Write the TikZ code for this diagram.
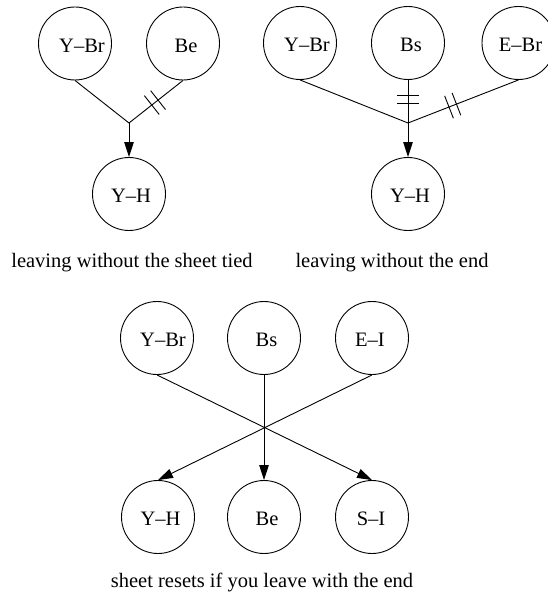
\documentclass[tikz,border=0pt]{standalone}
\usepackage{fontspec}
\setmainfont{Liberation Serif}
\usetikzlibrary{calc,arrows.meta}
% double hatch: a short stroke across the line #1--#2, #3 from #1, half length #4
\newcommand\hatchmark[4]{\draw ($(#1)!#3!(#2)!#4!90:(#2)$) -- ($(#1)!#3!(#2)!#4!-90:(#2)$);}
\begin{document}
\begin{tikzpicture}[x=1pt,y=-1pt,line width=0.9pt,
  state/.style={circle,draw,minimum size=73pt,inner sep=0pt},
  tag/.style={font=\fontsize{20.5}{24}\selectfont,yshift=-2pt},
  caption/.style={font=\fontsize{20.5}{24}\selectfont,anchor=base,inner sep=0pt},
  tip/.style={-{Triangle[length=15pt,width=9.5pt]}}]
\useasboundingbox (0,0) rectangle (548,599);

% leaving without the sheet tied
\node[state,label={[tag,xshift=7pt]center:Y--Br}] (a1) at (75,43.5) {};
\node[state,label={[tag,xshift=3pt]center:Be}] (a2) at (183,43.5) {};
\node[state,label={[tag,xshift=2pt]center:Y--H}] (a3) at (129,194) {};
\coordinate (aj) at (129,123);
\draw (a1.south) -- (aj) -- (a2.south);
\draw[tip] (aj) -- (a3.north);
\hatchmark{aj}{a2.south}{29pt}{12pt}
\hatchmark{aj}{a2.south}{37pt}{12pt}
\node[caption] (acap) at (132,267) {leaving without the sheet tied};

% leaving without the end
\node[state,label={[tag,xshift=7pt]center:Y--Br}] (b1) at (300,43) {};
\node[state,label={[tag,xshift=3pt]center:Bs}] (b2) at (408,43) {};
\node[state,label={[tag,xshift=2pt]center:E--Br}] (b3) at (518.5,43) {};
\node[state,label={[tag,xshift=2pt]center:Y--H}] (b4) at (408,194) {};
\coordinate (bj) at (408,123);
\draw (b1.south) -- (bj) -- (b3.south);
\draw (b2.south) -- (bj);
\draw[tip] (bj) -- (b4.north);
\hatchmark{bj}{b2.south}{20pt}{11pt}
\hatchmark{bj}{b2.south}{28pt}{11pt}
\hatchmark{bj}{b3.south}{44pt}{12pt}
\hatchmark{bj}{b3.south}{52pt}{12pt}
\node[caption] (bcap) at (392,267) {leaving without the end};

% sheet resets if you leave with the end
\node[state,label={[tag,xshift=6pt]center:Y--Br}] (c1) at (157,338) {};
\node[state,label={[tag,xshift=2.5pt]center:Bs}] (c2) at (264,338) {};
\node[state,label={[tag,xshift=-2pt]center:E--I}] (c3) at (372,338) {};
\node[state,label={[tag,xshift=2.5pt]center:Y--H}] (d1) at (158,517) {};
\node[state,label={[tag,xshift=3pt]center:Be}] (d2) at (264,517) {};
\node[state,label={[tag,xshift=-1pt]center:S--I}] (d3) at (372,517) {};
\draw[tip] (c1.south) -- (d3.north);
\draw[tip] (c2.south) -- (d2.north);
\draw[tip] (c3.south) -- (d1.north);
\node[caption] (ccap) at (262,587) {sheet resets if you leave with the end};
\end{tikzpicture}
\end{document}
